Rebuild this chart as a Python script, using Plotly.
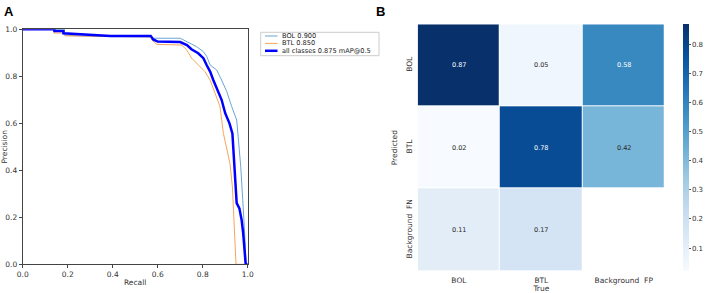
import plotly.graph_objects as go

# PR curve data
bol_recall = [0.0, 0.185, 0.185, 0.30, 0.57, 0.575, 0.70, 0.73, 0.773, 0.803, 0.818, 0.833, 0.862, 0.884,
              0.907, 0.929, 0.951, 0.959, 0.969, 0.978, 0.981, 0.988, 0.993, 1.0]
bol_precision = [1.0, 1.0, 0.975, 0.97, 0.968, 0.962, 0.962, 0.948, 0.926, 0.905, 0.884, 0.848, 0.827, 0.784,
                 0.735, 0.671, 0.614, 0.529, 0.416, 0.274, 0.203, 0.104, 0.0, 0.0]
btl_recall = [0.0, 0.14, 0.14, 0.18, 0.19, 0.57, 0.573, 0.596, 0.707, 0.729, 0.751, 0.788, 0.81, 0.833,
              0.855, 0.877, 0.892, 0.904, 0.921, 0.932, 0.941, 0.948, 1.0]
btl_precision = [1.0, 1.0, 0.984, 0.984, 0.972, 0.968, 0.955, 0.936, 0.933, 0.912, 0.877, 0.841, 0.82, 0.784,
                 0.728, 0.671, 0.557, 0.50, 0.43, 0.33, 0.16, 0.0, 0.0]
all_recall = [0.0, 0.141, 0.141, 0.181, 0.181, 0.27, 0.39, 0.569, 0.58, 0.60, 0.70, 0.73, 0.75, 0.78, 0.803,
              0.818, 0.833, 0.847, 0.862, 0.884, 0.90, 0.919, 0.932, 0.936, 0.945, 0.951, 0.963, 0.973,
              0.98, 0.988, 0.991, 1.0]
all_precision = [1.0, 1.0, 0.993, 0.993, 0.983, 0.979, 0.972, 0.972, 0.957, 0.948, 0.946, 0.933, 0.915, 0.898,
                 0.877, 0.847, 0.82, 0.784, 0.749, 0.70, 0.643, 0.60, 0.557, 0.50, 0.387, 0.26, 0.238,
                 0.189, 0.132, 0.047, 0.0, 0.0]
series_names = ["BOL 0.900", "BTL 0.850", "all classes 0.875 mAP@0.5"]
series_colors = ["#6ba5d6", "#f7a55e", "#0000ff"]
series_widths = [1, 1, 2.5]

# Confusion matrix data
cm_x_labels = ["BOL", "BTL", "Background  FP"]
cm_y_labels = ["BOL", "BTL", "Background  FN"]
cm_values = [[0.87, 0.05, 0.58],
             [0.02, 0.78, 0.42],
             [0.11, 0.17, None]]
cbar_ticks = [0.1, 0.2, 0.3, 0.4, 0.5, 0.6, 0.7, 0.8]

W, H = 708, 293
def px(x):
    return x / W
def py(y):
    return 1 - y / H

fig = go.Figure()
font_fam = "DejaVu Sans"

for xs, ys, nm, col, wd in zip([bol_recall, btl_recall, all_recall],
                               [bol_precision, btl_precision, all_precision],
                               series_names, series_colors, series_widths):
    fig.add_trace(go.Scatter(x=xs, y=ys, mode="lines", name=nm, line=dict(color=col, width=wd),
                             xaxis="x", yaxis="y", showlegend=False))

text_colors = [["white" if (v is not None and v > 0.5) else "#262626" for v in row] for row in cm_values]
fig.add_trace(go.Heatmap(
    z=cm_values, x=cm_x_labels, y=cm_y_labels, xaxis="x2", yaxis="y2",
    colorscale="Blues", zmin=0.02, zmax=0.87, showscale=True, hoverongaps=False, xgap=1, ygap=1,
    colorbar=dict(x=px(683), xanchor="left", y=py(24.3), yanchor="top", lenmode="pixels", len=246.7,
                  thicknessmode="pixels", thickness=6, outlinewidth=0, tickvals=cbar_ticks,
                  ticks="outside", ticklen=2, tickcolor="#555", xpad=0, ypad=0,
                  tickfont=dict(size=7, color="#333", family=font_fam)),
    showlegend=False))

for i, row in enumerate(cm_values):
    for j, v in enumerate(row):
        if v is None:
            continue
        fig.add_annotation(x=cm_x_labels[j], y=cm_y_labels[i], xref="x2", yref="y2", text=f"{v:.2f}",
                           showarrow=False, font=dict(size=6.5, color=text_colors[i][j], family=font_fam))

axis_common = dict(showgrid=False, zeroline=False, linecolor="#444", linewidth=1, mirror=True, automargin=False,
                   ticks="outside", ticklen=3, tickcolor="#444", tickfont=dict(size=7.5, color="#333", family=font_fam))

fig.update_layout(
    width=W, height=H, margin=dict(l=0, r=0, t=0, b=0, autoexpand=False),
    paper_bgcolor="white", plot_bgcolor="white", showlegend=False,
    font=dict(family=font_fam, color="#333"),
    xaxis=dict(domain=[px(22.7), px(247.7)], range=[0, 1], tickvals=[0, 0.2, 0.4, 0.6, 0.8, 1.0],
               tickformat=".1f", anchor="y",
               title=dict(text="Recall", font=dict(size=7.5, family=font_fam), standoff=1), **axis_common),
    yaxis=dict(domain=[py(264.3), py(29.3)], range=[0, 1], tickvals=[0, 0.2, 0.4, 0.6, 0.8, 1.0],
               tickformat=".1f", anchor="x",
               title=dict(text="Precision", font=dict(size=7.5, family=font_fam), standoff=2), **axis_common),
    xaxis2=dict(domain=[px(417.7), px(665)], anchor="y2", showgrid=False, zeroline=False, showline=False,
                ticks="", automargin=False, ticklabelstandoff=3,
                tickfont=dict(size=7.5, color="#333", family=font_fam),
                title=dict(text="True", font=dict(size=7.5, family=font_fam), standoff=0)),
    yaxis2=dict(domain=[py(271), py(24.3)], anchor="x2", autorange="reversed", showgrid=False, zeroline=False,
                showline=False, ticks="", tickangle=-90, automargin=False, ticklabelstandoff=3,
                tickfont=dict(size=7.5, color="#333", family=font_fam),
                title=dict(text="Predicted", font=dict(size=7.5, family=font_fam), standoff=6)),
)

# Manual legend (matplotlib-style compact box)
lx0, ly0, lx1, ly1 = 260.7, 32.3, 379, 55.7
fig.add_shape(type="rect", xref="paper", yref="paper", x0=px(lx0), x1=px(lx1), y0=py(ly1), y1=py(ly0),
              line=dict(color="#cccccc", width=1), fillcolor="white")
for k, (nm, col, wd) in enumerate(zip(series_names, series_colors, series_widths)):
    yy = 36 + k * 7.4
    fig.add_shape(type="line", xref="paper", yref="paper", x0=px(265), x1=px(277.5), y0=py(yy), y1=py(yy),
                  line=dict(color=col, width=wd))
    fig.add_annotation(text=nm, xref="paper", yref="paper", x=px(280), y=py(yy), xanchor="left",
                       yanchor="middle", showarrow=False, font=dict(size=6.6, color="#222", family=font_fam))

fig.add_annotation(text="<b>A</b>", x=px(2), y=py(2), xref="paper", yref="paper", xanchor="left", yanchor="top",
                   showarrow=False, font=dict(size=13, color="black", family="Liberation Sans"))
fig.add_annotation(text="<b>B</b>", x=px(374), y=py(2), xref="paper", yref="paper", xanchor="left", yanchor="top",
                   showarrow=False, font=dict(size=13, color="black", family="Liberation Sans"))

fig.write_html("out.html", config={"displayModeBar": False},
               post_script="document.body.style.margin='0';document.body.style.padding='0';")
